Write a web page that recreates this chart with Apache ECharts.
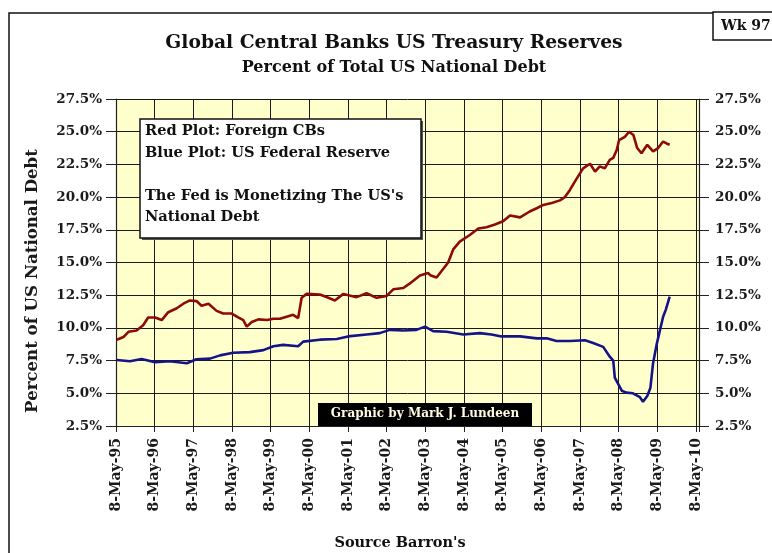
<!DOCTYPE html>
<html>
<head>
<meta charset="utf-8">
<script src="https://cdn.jsdelivr.net/npm/echarts@6/dist/echarts.min.js"></script>
<style>
  html, body { margin: 0; padding: 0; background: #ffffff; }
  #chart { width: 772px; height: 553px; }
</style>
</head>
<body>
<div id="chart"></div>
<script>
// 8 May 1995 expressed as a decimal year: the x axis counts years from here
const START_YEAR = 1995.348;

const xTickLabels = ['8-May-95', '8-May-96', '8-May-97', '8-May-98', '8-May-99', '8-May-00',
  '8-May-01', '8-May-02', '8-May-03', '8-May-04', '8-May-05', '8-May-06', '8-May-07',
  '8-May-08', '8-May-09', '8-May-10'];

// Foreign central banks: share of total US national debt (%)
const foreignYears = [1995.37, 1995.54, 1995.67, 1995.88, 1996.05, 1996.18, 1996.36, 1996.53,
  1996.70, 1996.92, 1997.09, 1997.26, 1997.43, 1997.56, 1997.74, 1997.95, 1998.12, 1998.34,
  1998.51, 1998.64, 1998.73, 1998.86, 1999.03, 1999.25, 1999.42, 1999.59, 1999.76, 1999.93,
  2000.06, 2000.11, 2000.15, 2000.28, 2000.62, 2000.84, 2001.01, 2001.23, 2001.57, 2001.83,
  2002.09, 2002.35, 2002.52, 2002.78, 2002.95, 2003.21, 2003.42, 2003.49, 2003.64, 2003.81,
  2003.94, 2004.07, 2004.24, 2004.50, 2004.72, 2004.93, 2005.15, 2005.36, 2005.54, 2005.80,
  2006.05, 2006.23, 2006.40, 2006.62, 2006.83, 2006.96, 2007.09, 2007.22, 2007.43, 2007.61,
  2007.74, 2007.86, 2007.99, 2008.12, 2008.21, 2008.30, 2008.36, 2008.51, 2008.62, 2008.73,
  2008.83, 2008.94, 2009.09, 2009.24, 2009.37, 2009.50, 2009.59, 2009.67];
const foreignPct = [9.1, 9.3, 9.7, 9.8, 10.2, 10.8, 10.8, 10.6,
  11.2, 11.5, 11.85, 12.1, 12.05, 11.7, 11.85, 11.3, 11.1, 11.1,
  10.8, 10.6, 10.1, 10.45, 10.65, 10.6, 10.7, 10.7, 10.85, 11.0,
  10.75, 10.7, 12.3, 12.6, 12.55, 12.3, 12.1, 12.6, 12.35, 12.65,
  12.3, 12.45, 12.95, 13.05, 13.4, 14.0, 14.2, 14.0, 13.85, 14.5,
  15.0, 16.0, 16.6, 17.1, 17.6, 17.7, 17.9, 18.15, 18.6, 18.45,
  18.9, 19.15, 19.4, 19.55, 19.75, 20.0, 20.55, 21.2, 22.2, 22.55,
  21.95, 22.35, 22.2, 22.85, 23.0, 23.6, 24.35, 24.6, 25.0, 24.75,
  23.75, 23.35, 24.0, 23.5, 23.75, 24.25, 24.1, 24.0];

// US Federal Reserve: share of total US national debt (%)
const fedYears = [1995.37, 1995.71, 1996.01, 1996.36, 1996.74, 1997.18, 1997.43, 1997.78,
  1998.04, 1998.38, 1998.81, 1999.16, 1999.42, 1999.67, 2000.06, 2000.19, 2000.62, 2001.06,
  2001.35, 2001.83, 2002.17, 2002.43, 2002.78, 2003.12, 2003.34, 2003.55, 2003.90, 2004.33,
  2004.76, 2005.06, 2005.32, 2005.80, 2006.23, 2006.49, 2006.74, 2007.09, 2007.48, 2007.69,
  2007.95, 2008.12, 2008.21, 2008.25, 2008.34, 2008.43, 2008.55, 2008.72, 2008.90, 2008.98,
  2009.09, 2009.17, 2009.24, 2009.33, 2009.42, 2009.50, 2009.57, 2009.67];
const fedPct = [7.55, 7.45, 7.63, 7.37, 7.45, 7.3, 7.6, 7.65,
  7.9, 8.1, 8.15, 8.3, 8.6, 8.7, 8.6, 8.95, 9.1, 9.15,
  9.35, 9.5, 9.6, 9.85, 9.8, 9.85, 10.1, 9.75, 9.7, 9.5,
  9.6, 9.5, 9.35, 9.35, 9.2, 9.2, 9.0, 9.0, 9.05, 8.85,
  8.55, 7.8, 7.5, 6.2, 5.7, 5.2, 5.05, 5.0, 4.7, 4.35,
  4.8, 5.4, 7.3, 8.7, 9.85, 10.85, 11.4, 12.4];

const SERIF = '"DejaVu Serif", "Liberation Serif", serif';

function toPoints(years, values) {
  return years.map((y, i) => [y - START_YEAR, values[i]]);
}

function pctLabel(v) { return v.toFixed(1) + '%'; }

const chart = echarts.init(document.getElementById('chart'), null, { renderer: 'canvas' });

const yAxisBase = {
  type: 'value',
  min: 2.5,
  max: 27.5,
  interval: 2.5,
  axisLine: { show: true, lineStyle: { color: '#222', width: 1.2 } },
  axisTick: { show: true, length: 10, lineStyle: { color: '#222', width: 1 } },
  axisLabel: {
    formatter: pctLabel,
    fontFamily: SERIF, fontWeight: 'bold', fontSize: 13.5, color: '#1a1a1a'
  }
};

const noteStyle = { fontFamily: SERIF, fontWeight: 'bold', fontSize: 14.6,
  fill: '#111', textVerticalAlign: 'middle' };

chart.setOption({
  animation: false,
  backgroundColor: '#ffffff',
  grid: {
    left: 116, right: 73, top: 99, bottom: 127,
    show: true, backgroundColor: '#ffffcc', borderWidth: 0
  },
  xAxis: {
    type: 'value',
    min: 0,
    max: 15.08,
    interval: 1,
    axisLine: { show: true, onZero: false, lineStyle: { color: '#222', width: 1.2 } },
    axisTick: { show: true, length: 6, lineStyle: { color: '#222' } },
    splitLine: { show: true, lineStyle: { color: '#1a1a1a', width: 1 } },
    axisLabel: {
      rotate: 90,
      margin: 12,
      fontFamily: SERIF, fontWeight: 'bold', fontSize: 14, color: '#1a1a1a',
      formatter: function (v) {
        const k = Math.round(v);
        return Math.abs(v - k) < 1e-6 && xTickLabels[k] ? xTickLabels[k] : '';
      }
    }
  },
  yAxis: [
    Object.assign({}, yAxisBase, {
      position: 'left',
      axisLabel: Object.assign({}, yAxisBase.axisLabel, { margin: 14 }),
      splitLine: { show: true, lineStyle: { color: '#1a1a1a', width: 1 } }
    }),
    Object.assign({}, yAxisBase, {
      position: 'right',
      axisLabel: Object.assign({}, yAxisBase.axisLabel, { margin: 16 }),
      splitLine: { show: false }
    })
  ],
  series: [
    {
      name: 'Foreign CBs',
      type: 'line',
      data: toPoints(foreignYears, foreignPct),
      showSymbol: false,
      lineStyle: { color: '#8c0a0a', width: 2.6 },
      z: 3
    },
    {
      name: 'US Federal Reserve',
      type: 'line',
      data: toPoints(fedYears, fedPct),
      showSymbol: false,
      lineStyle: { color: '#141488', width: 2.6 },
      z: 3
    }
  ],
  graphic: [
    // outer frame (top and left edges visible)
    { type: 'rect', shape: { x: 9, y: 13, width: 820, height: 600 },
      style: { fill: 'none', stroke: '#111', lineWidth: 1.5 }, silent: true },
    // week box
    { type: 'rect', shape: { x: 713, y: 12, width: 62, height: 28 },
      style: { fill: '#ffffff', stroke: '#111', lineWidth: 1.5 }, z: 10 },
    { type: 'text', x: 721, y: 26, z: 11,
      style: { text: 'Wk 97', fontFamily: SERIF, fontWeight: 'bold', fontSize: 14,
        fill: '#111', textVerticalAlign: 'middle' } },
    // titles
    { type: 'text', x: 394, y: 43, z: 10,
      style: { text: 'Global Central Banks US Treasury Reserves', fontFamily: SERIF,
        fontWeight: 'bold', fontSize: 18.7, fill: '#111', textAlign: 'center', textVerticalAlign: 'middle' } },
    { type: 'text', x: 394, y: 68, z: 10,
      style: { text: 'Percent of Total US National Debt', fontFamily: SERIF,
        fontWeight: 'bold', fontSize: 16, fill: '#111', textAlign: 'center', textVerticalAlign: 'middle' } },
    // vertical axis title
    { type: 'text', x: 33, y: 281, rotation: Math.PI / 2, z: 10,
      style: { text: 'Percent of US National Debt', fontFamily: SERIF,
        fontWeight: 'bold', fontSize: 16.6, fill: '#1a1a1a', textAlign: 'center', textVerticalAlign: 'middle' } },
    // note box
    { type: 'rect', shape: { x: 142, y: 121, width: 281, height: 119 },
      style: { fill: '#555' }, z: 9 },
    { type: 'rect', shape: { x: 140, y: 119, width: 281, height: 119 },
      style: { fill: '#ffffff', stroke: '#111', lineWidth: 1.5 }, z: 10 },
    { type: 'text', x: 145, y: 131, z: 11,
      style: Object.assign({ text: 'Red Plot: Foreign CBs' }, noteStyle) },
    { type: 'text', x: 145, y: 153, z: 11,
      style: Object.assign({ text: 'Blue Plot: US Federal Reserve' }, noteStyle) },
    { type: 'text', x: 145, y: 196, z: 11,
      style: Object.assign({ text: "The Fed is Monetizing The US's" }, noteStyle) },
    { type: 'text', x: 145, y: 217, z: 11,
      style: Object.assign({ text: 'National Debt' }, noteStyle) },
    // credit box
    { type: 'rect', shape: { x: 318, y: 403, width: 214, height: 23 },
      style: { fill: '#000000' }, z: 10 },
    { type: 'text', x: 425, y: 414, z: 11,
      style: { text: 'Graphic by Mark J. Lundeen', fontFamily: SERIF, fontWeight: 'bold', fontSize: 12,
        fill: '#fffbe0', textAlign: 'center', textVerticalAlign: 'middle' } },
    // source line
    { type: 'text', x: 400, y: 543, z: 10,
      style: { text: "Source Barron's", fontFamily: SERIF, fontWeight: 'bold', fontSize: 14.5,
        fill: '#111', textAlign: 'center', textVerticalAlign: 'middle' } }
  ]
});
</script>
</body>
</html>
